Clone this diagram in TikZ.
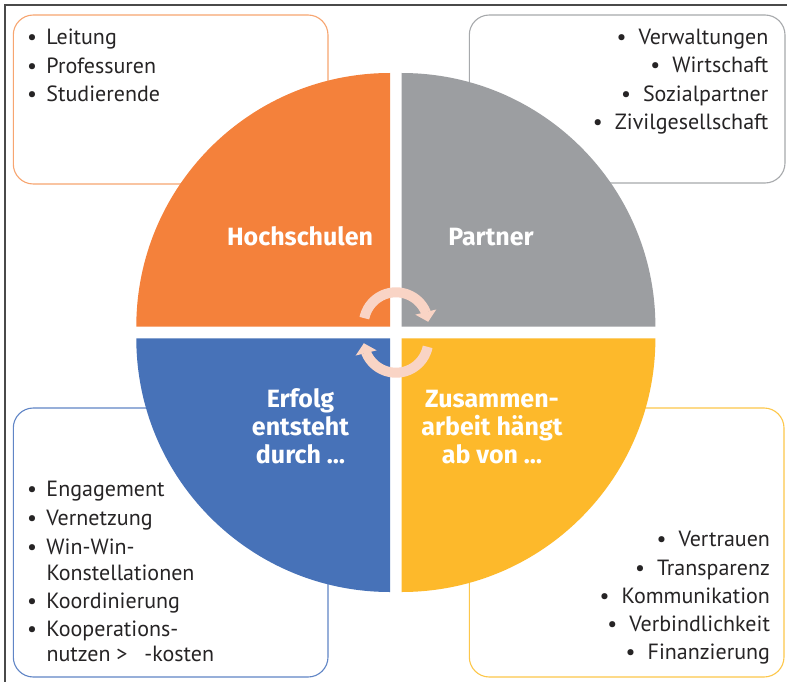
\documentclass[tikz,border=0pt]{standalone}
\usepackage{fontspec}
\setmainfont{PT Sans}
\newfontfamily\labelfont{Fira Sans}
\usetikzlibrary{arrows.meta,bending}

\definecolor{ink}{HTML}{262425}
\definecolor{framegray}{HTML}{4A4A4A}
\definecolor{orangeQ}{HTML}{F4813B}
\definecolor{grayQ}{HTML}{9C9EA1}
\definecolor{blueQ}{HTML}{4772B8}
\definecolor{yellowQ}{HTML}{FDB92B}
\definecolor{orangeL}{HTML}{F7A570}
\definecolor{grayL}{HTML}{A7A9AC}
\definecolor{blueL}{HTML}{6085C6}
\definecolor{yellowL}{HTML}{FDC74A}
\definecolor{peach}{HTML}{F9D4C5}

% bullet with its gap to the item text
\newcommand\bltl{\makebox[29pt][c]{\textbullet}}
\newcommand\bltr{\makebox[34pt][c]{\textbullet}}

\begin{document}
\begin{tikzpicture}[x=1pt,y=-1pt,
  itemtext/.style={font=\fontsize{22}{26}\selectfont, text=ink, inner sep=0pt, outer sep=0pt},
  lft/.style={itemtext, anchor=base west},
  rgt/.style={itemtext, anchor=base east},
  quadlabel/.style={font=\labelfont\fontsize{25}{28}\selectfont\bfseries, text=white, inner sep=0pt, anchor=base},
  roundbox/.style={line width=1.1pt, rounded corners=20pt},
  cyclearrow/.style={draw=peach, line width=10pt, -{Triangle[width=21pt,length=10pt]}}
]
\useasboundingbox (0,0) rectangle (787,682);
\fill[white] (0,0) rectangle (787,682);

% outer frame
\draw[framegray, line width=2pt] (5,682) -- (5,5) -- (787,5);

% text boxes behind the disc
\draw[roundbox, draw=orangeL] (13.3,15) rectangle (328,184);
\draw[roundbox, draw=grayL] (469.3,15) rectangle (785,183);
\draw[roundbox, draw=blueL] (13.3,408) rectangle (328,677);
\draw[roundbox, draw=yellowL] (469.3,408) rectangle (784,677);

% four quarter discs
\fill[orangeQ] (390,326.7) -- (136.3,326.7) arc[start angle=180, end angle=270, radius=253.7] -- cycle;
\fill[grayQ] (401.7,326.7) -- (401.7,73) arc[start angle=270, end angle=360, radius=253.7] -- cycle;
\fill[blueQ] (390,338.3) -- (390,592) arc[start angle=90, end angle=180, radius=253.7] -- cycle;
\fill[yellowQ] (401.7,338.3) -- (655.4,338.3) arc[start angle=0, end angle=90, radius=253.7] -- cycle;

% cycle arrows in the middle
\coordinate (ctop) at (396,324.6);
\coordinate (cbot) at (396,340.4);
\draw[cyclearrow] (ctop) ++(191.5:32.3) arc[start angle=191.5, end angle=355, radius=32.3];
\draw[cyclearrow] (cbot) ++(11.5:32.3) arc[start angle=11.5, end angle=175, radius=32.3];

% quadrant labels
\node[quadlabel] (hs) at (300,245) {Hochschulen};
\node[quadlabel] (pa) at (491,245) {Partner};
\node[quadlabel] (er1) at (300.5,407) {Erfolg};
\node[quadlabel] (er2) at (300.5,435) {entsteht};
\node[quadlabel] (er3) at (300.5,463) {durch …};
\node[quadlabel] (za1) at (492,407) {Zusammen-};
\node[quadlabel] (za2) at (492,435) {arbeit hängt};
\node[quadlabel] (za3) at (492,463) {ab von …};

% Hochschulen
\node[lft] (tl1) at (17.5,45) {\bltl Leitung};
\node[lft] (tl2) at (17.5,73.3) {\bltl Professuren};
\node[lft] (tl3) at (17.5,101.7) {\bltl Studierende};

% Partner
\node[rgt] (tr1) at (768.3,45) {\bltr Verwaltungen};
\node[rgt] (tr2) at (768.3,73) {\bltr Wirtschaft};
\node[rgt] (tr3) at (768.3,102) {\bltr Sozialpartner};
\node[rgt] (tr4) at (768.3,130) {\bltr Zivilgesellschaft};

% Erfolg entsteht durch
\node[lft] (bl1) at (17.5,496.7) {\bltl Engagement};
\node[lft] (bl2) at (17.5,525) {\bltl Vernetzung};
\node[lft] (bl3) at (17.5,554) {\bltl Win-Win-};
\node[lft] (bl3b) at (46.5,580) {Konstellationen};
\node[lft] (bl4) at (17.5,608) {\bltl Koordinierung};
\node[lft] (bl5) at (17.5,636.7) {\bltl Kooperations-};
\node[lft] (bl5b) at (46.5,661.7) {nutzen >\hspace{0.5em} -kosten};

% Zusammenarbeit haengt ab von
\node[rgt] (br1) at (770,546.7) {\bltr Vertrauen};
\node[rgt] (br2) at (770,575) {\bltr Transparenz};
\node[rgt] (br3) at (770,603) {\bltr Kommunikation};
\node[rgt] (br4) at (770,631.7) {\bltr Verbindlichkeit};
\node[rgt] (br5) at (770,659) {\bltr Finanzierung};
\end{tikzpicture}
\end{document}
